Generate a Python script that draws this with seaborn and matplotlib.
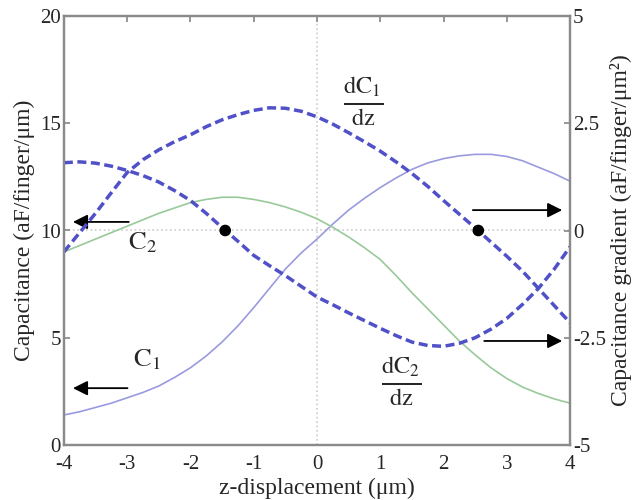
import matplotlib
matplotlib.use("Agg")
import matplotlib.pyplot as plt
import seaborn as sns

# ---- data ----
z = [-4, -3.75, -3.5, -3.25, -3, -2.75, -2.5, -2.25, -2, -1.75, -1.5, -1.25, -1,
     -0.75, -0.5, -0.25, 0, 0.25, 0.5, 0.75, 1, 1.25, 1.5, 1.75, 2, 2.25, 2.5,
     2.75, 3, 3.25, 3.5, 3.75, 4]
# capacitances, aF/finger/um (left axis)
c1 = [1.4, 1.55, 1.75, 1.95, 2.2, 2.45, 2.75, 3.15, 3.6, 4.15, 4.8, 5.55, 6.4,
      7.3, 8.2, 8.95, 9.6, 10.3, 10.95, 11.5, 12.0, 12.45, 12.85, 13.15, 13.35, 13.48, 13.55,
      13.55, 13.45, 13.25, 12.95, 12.65, 12.3]
c2 = [9.0, 9.3, 9.6, 9.9, 10.2, 10.5, 10.8, 11.05, 11.3, 11.45, 11.55, 11.55, 11.45,
      11.3, 11.1, 10.85, 10.55, 10.15, 9.7, 9.2, 8.65, 7.9, 7.1, 6.35, 5.6, 4.85, 4.2,
      3.6, 3.1, 2.7, 2.4, 2.15, 1.95]
# capacitance gradients, aF/finger/um^2 (right axis)
dc1 = [-0.5, -0.05, 0.4, 0.88, 1.35, 1.65, 1.88, 2.07, 2.23, 2.42, 2.58, 2.7, 2.8,
       2.86, 2.85, 2.78, 2.65, 2.48, 2.28, 2.07, 1.85, 1.6, 1.33, 1.03, 0.7, 0.38, 0.06,
       -0.27, -0.6, -0.95, -1.35, -1.75, -2.15]
dc2 = [1.58, 1.6, 1.57, 1.5, 1.4, 1.28, 1.13, 0.93, 0.7, 0.4, 0.07, -0.25, -0.58,
       -0.82, -1.05, -1.3, -1.55, -1.73, -1.92, -2.1, -2.28, -2.45, -2.6, -2.68, -2.7, -2.63, -2.5,
       -2.3, -2.05, -1.72, -1.35, -0.9, -0.38]
zero_z = [-1.45, 2.55]
zero_g = [0, 0]
left_ticks = [0, 5, 10, 15, 20]
right_ticks = [-5, -2.5, 0, 2.5, 5]
right_labels = ['-5', '-2.5', '0', '2.5', '5']
x_ticks = [-4, -3, -2, -1, 0, 1, 2, 3, 4]

sns.set_theme(style="white")
plt.rcParams['font.family'] = ['Liberation Serif', 'DejaVu Serif']
plt.rcParams['mathtext.fontset'] = 'stix'
plt.rcParams['axes.unicode_minus'] = False

fig = plt.figure(figsize=(6.32, 5.0), dpi=100)
ax = fig.add_axes([0.101, 0.11, 0.801, 0.858])
ax2 = ax.twinx()

sns.lineplot(x=z, y=c1, ax=ax, color='#9a9ae0', lw=1.2)
sns.lineplot(x=z, y=c2, ax=ax, color='#99c999', lw=1.2)
sns.lineplot(x=z, y=dc1, ax=ax2, color='#5050c8', lw=2.5)
ax2.lines[-1].set_dashes([2.6, 1.3])
sns.lineplot(x=z, y=dc2, ax=ax2, color='#5050c8', lw=2.5)
ax2.lines[-1].set_dashes([2.6, 1.3])
sns.scatterplot(x=zero_z, y=zero_g, ax=ax2, color='black', s=70, zorder=5, edgecolor='none')

ax.axvline(0, color='#cccccc', lw=1.2, ls=':', zorder=0)
ax.axhline(10, color='#cccccc', lw=1.2, ls=':', zorder=0)

ax.set_xlim(-4, 4)
ax.set_ylim(0, 20)
ax2.set_ylim(-5, 5)
ax.set_xticks(x_ticks)
ax.set_xticklabels([str(t) for t in x_ticks])
ax.set_yticks(left_ticks)
ax.set_yticklabels([str(t) for t in left_ticks])
ax2.set_yticks(right_ticks)
ax2.set_yticklabels(right_labels)

for a in (ax, ax2):
    for s in a.spines.values():
        s.set_color('#8a8a8a')
        s.set_linewidth(1.6)
ax.tick_params(axis='both', direction='in', length=4, color='#8a8a8a', labelsize=15,
               top=True, pad=2)
ax.tick_params(axis='x', pad=7)
ax2.tick_params(axis='y', direction='in', length=4, color='#8a8a8a', labelsize=15, pad=2)

ax.set_xlabel('z-displacement (μm)', fontsize=17, labelpad=3)
ax.set_ylabel('Capacitance (aF/finger/μm)', fontsize=17, labelpad=4)
ax2.set_ylabel('Capacitance gradient (aF/finger/μm²)', fontsize=17, labelpad=3)

arr = dict(arrowstyle='-|>', color='black', lw=1.3, mutation_scale=22)
ax.annotate('', xy=(-3.9, 10.4), xytext=(-2.93, 10.4), arrowprops=arr)
ax.annotate('', xy=(-3.9, 2.65), xytext=(-2.95, 2.65), arrowprops=arr)
ax.annotate('', xy=(3.92, 10.95), xytext=(2.42, 10.95), arrowprops=arr)
ax.annotate('', xy=(3.92, 4.85), xytext=(2.6, 4.85), arrowprops=arr)

ax.text(-2.98, 9.45, r'$\mathrm{C_2}$', fontsize=19, ha='left', va='center')
ax.text(-2.9, 4.0, r'$\mathrm{C_1}$', fontsize=19, ha='left', va='center')
ax.text(0.73, 16.0, r'$\frac{\mathrm{dC_1}}{\mathrm{dz}}$', fontsize=25, ha='center', va='center')
ax.text(1.33, 2.95, r'$\frac{\mathrm{dC_2}}{\mathrm{dz}}$', fontsize=25, ha='center', va='center')

fig.savefig('out.png', dpi=100)
